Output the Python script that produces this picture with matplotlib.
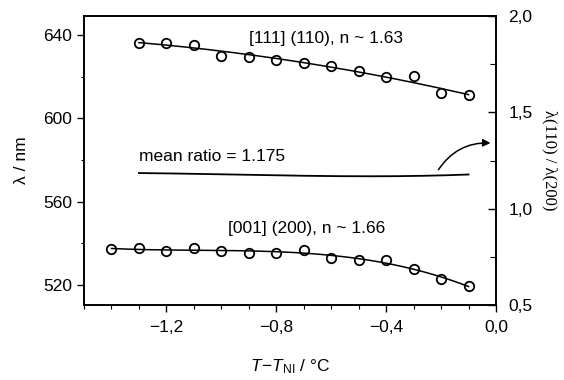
import numpy as np
import matplotlib.pyplot as plt
from matplotlib.ticker import MultipleLocator, FuncFormatter

plt.rcParams['font.family'] = ['Liberation Sans', 'DejaVu Sans']
plt.rcParams['mathtext.fontset'] = 'custom'
plt.rcParams['mathtext.rm'] = 'Liberation Sans'
plt.rcParams['mathtext.it'] = 'Liberation Sans:italic'

# [111] (110) reflection
x_110 = [-1.3, -1.2, -1.1, -1.0, -0.9, -0.8, -0.7, -0.6, -0.5, -0.4, -0.3, -0.2, -0.1]
lam_110 = [636.3, 636.0, 635.2, 630.1, 629.3, 628.2, 626.6, 625.3, 622.9, 619.7, 620.2, 612.0, 611.0]

# [001] (200) reflection
x_200 = [-1.4, -1.3, -1.2, -1.1, -1.0, -0.9, -0.8, -0.7, -0.6, -0.5, -0.4, -0.3, -0.2, -0.1]
lam_200 = [537.1, 537.6, 536.5, 537.6, 536.5, 535.5, 535.5, 536.6, 533.0, 532.2, 532.0, 527.8, 522.9, 519.5]

xticks = [-1.2, -0.8, -0.4, 0.0]


def comma(v, pos):
    return f'{v:.1f}'.replace('.', ',').replace('-', '\u2212')


fig = plt.figure(figsize=(5.64, 3.8), dpi=100)
ax = fig.add_axes([84 / 564, 1 - 305 / 380, 412 / 564, 289 / 380])
ax2 = ax.twinx()

# fits
p110 = np.polyfit(x_110, lam_110, 2)
p200 = np.polyfit(x_200, lam_200, 3)
xf_110 = np.linspace(min(x_110), max(x_110), 200)
xf_200 = np.linspace(min(x_200), max(x_200), 200)
ax.plot(xf_110, np.polyval(p110, xf_110), color='black', lw=1.1)
ax.plot(xf_200, np.polyval(p200, xf_200), color='black', lw=1.1)
ax.plot(x_110, lam_110, 'o', mfc='none', mec='black', ms=6.8, mew=1.3)
ax.plot(x_200, lam_200, 'o', mfc='none', mec='black', ms=6.8, mew=1.3)

# ratio of the fits on the right axis
ratio = np.polyval(p110, xf_110) / np.polyval(p200, xf_110)
ax2.plot(xf_110, ratio, color='black', lw=1.3)

ax.set_xlim(-1.5, 0.0)
ax.set_ylim(510.4, 649.1)
ax2.set_ylim(0.5, 2.0)

ax.set_xticks(xticks)
ax.xaxis.set_minor_locator(MultipleLocator(0.1))
ax.xaxis.set_major_formatter(FuncFormatter(comma))
ax.yaxis.set_major_locator(MultipleLocator(40))
ax.yaxis.set_minor_locator(MultipleLocator(20))
ax.tick_params(which='major', direction='out', length=5, width=1, labelsize=12.5)
ax.tick_params(which='minor', direction='out', length=3, width=0.8)
ax.tick_params(axis='y', which='minor', length=2)
ax.tick_params(axis='x', pad=6)

ax2.yaxis.set_major_locator(MultipleLocator(0.5))
ax2.yaxis.set_minor_locator(MultipleLocator(0.25))
ax2.yaxis.set_major_formatter(FuncFormatter(comma))
ax2.tick_params(which='major', direction='in', length=6, width=1, labelsize=12.5, pad=9)
ax2.tick_params(which='minor', direction='in', length=4, width=0.8)

for a in (ax, ax2):
    for s in a.spines.values():
        s.set_linewidth(1.2)

ax.set_ylabel('\u03bb / nm', fontsize=12.5, labelpad=10)
ax2.set_ylabel('\u03bb(110) / \u03bb(200)', fontsize=12, family=['Liberation Serif', 'DejaVu Serif'],
               rotation=-90, labelpad=18)
ax.set_xlabel('$T\\!-\\!T_{\\mathrm{NI}}$ / \u00b0C', fontsize=12.5, labelpad=16)

ax.text(-0.62, 638.2, '[111] (110), n ~ 1.63', ha='center', va='center', fontsize=12.5)
ax.text(-0.69, 547.3, '[001] (200), n ~ 1.66', ha='center', va='center', fontsize=12.5)
ax2.text(-1.3, 1.27, 'mean ratio = 1.175', ha='left', va='center', fontsize=12.5)

ax2.annotate('', xy=(-0.01, 1.34), xytext=(-0.215, 1.19),
             arrowprops=dict(arrowstyle='-|>', color='black', lw=1.1,
                             connectionstyle='arc3,rad=-0.3', mutation_scale=11))

fig.savefig('out.png', dpi=100)
